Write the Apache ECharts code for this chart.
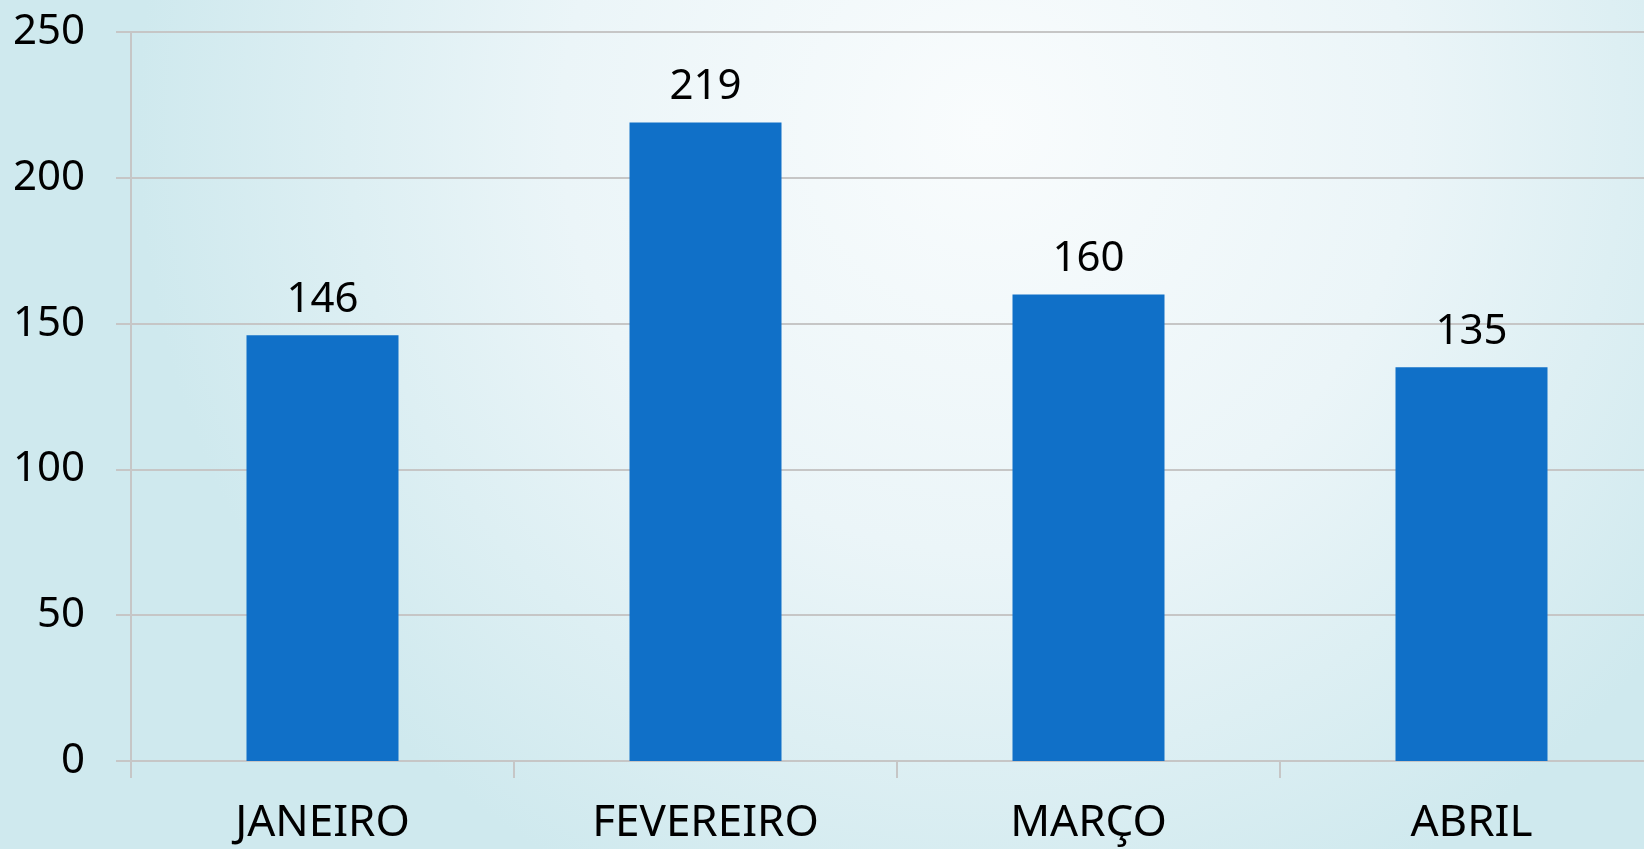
<!DOCTYPE html>
<html>
<head>
<meta charset="utf-8">
<title>Meses</title>
<script src="https://cdn.jsdelivr.net/npm/echarts@6/dist/echarts.min.js"></script>
<style>
  html, body { margin: 0; padding: 0; overflow: hidden; }
  /* o gráfico original corta a última categoria na borda direita */
  #main { width: 1700px; height: 849px; }
</style>
</head>
<body>
<div id="main"></div>
<script>
  // dados
  var meses = ['JANEIRO', 'FEVEREIRO', 'MARÇO', 'ABRIL'];
  var valores = [146, 219, 160, 135];
  var eixoY = { min: 0, max: 250, interval: 50 };

  var chart = echarts.init(document.getElementById('main'));
  var fonte = '"Noto Sans", sans-serif';
  var linha = '#c6c6c6';

  var option = {
    backgroundColor: {
      type: 'radial', x: 0.58, y: 0.15, r: 1.0,
      colorStops: [
        { offset: 0, color: '#f9fcfd' },
        { offset: 0.5, color: '#ebf5f8' },
        { offset: 1, color: '#cfe9ee' }
      ]
    },
    animation: false,
    grid: { left: 131, top: 32, bottom: 88, width: 1532 },
    xAxis: {
      type: 'category',
      data: meses,
      axisLine: { lineStyle: { color: linha, width: 2 } },
      axisTick: { show: true, length: 17, lineStyle: { color: linha, width: 2 } },
      axisLabel: { color: '#000', fontFamily: fonte, fontSize: 44, margin: 40 }
    },
    yAxis: {
      type: 'value',
      min: eixoY.min, max: eixoY.max, interval: eixoY.interval,
      axisLine: { show: true, lineStyle: { color: linha, width: 2 } },
      axisTick: { show: true, length: 15, lineStyle: { color: linha, width: 2 } },
      splitLine: { lineStyle: { color: linha, width: 2 } },
      axisLabel: { color: '#000', fontFamily: fonte, fontSize: 42, margin: 46 }
    },
    series: [{
      type: 'bar',
      data: valores,
      barWidth: 152,
      itemStyle: { color: '#1070c8' },
      label: {
        show: true, position: 'top', distance: 14,
        color: '#000', fontFamily: fonte, fontSize: 42
      }
    }]
  };
  chart.setOption(option);
</script>
</body>
</html>
